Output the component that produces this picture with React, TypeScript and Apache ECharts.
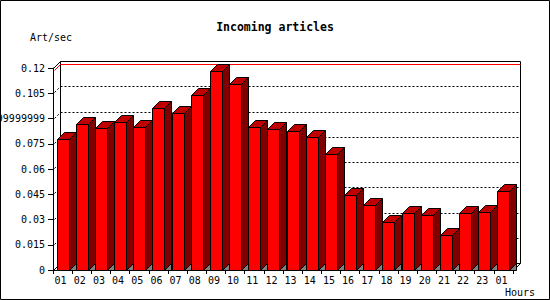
import React, { useEffect, useRef } from "react";
import * as echarts from "echarts";

const hours = ["01","02","03","04","05","06","07","08","09","10","11","12","13","14","15","16","17","18","19","20","21","22","23","01"];
const articlesPerSec = [0.0776,0.0866,0.0842,0.0877,0.0848,0.0960,0.0931,0.1038,0.1182,0.1103,0.0848,0.0839,0.0824,0.0788,0.0691,0.0446,0.0384,0.0285,0.0337,0.0325,0.0206,0.0339,0.0345,0.0467];
const yTickValues = [0,0.015,0.03,0.045,0.06,0.075,0.09,0.105,0.12];
const yTickLabels = ["0","0.015","0.03","0.045","0.06","0.075","0.0899999999999999","0.105","0.12"];
const titleText = "Incoming articles";
const yName = "Art/sec";
const xName = "Hours";

const FONT = "DejaVu Sans Mono";
const D = 7;
const snap = (v: number) => Math.round(v) + 0.5;

export default function App() {
  const ref = useRef<HTMLDivElement>(null);
  useEffect(() => {
    document.body.style.margin = "0";
    const chart = echarts.init(ref.current!, null, { renderer: "svg" });
    const maxVal = Math.max(...articlesPerSec);
    chart.setOption({
      animation: false,
      backgroundColor: "#ffffff",
      grid: { left: 53, top: 68, width: 460, height: 202, containLabel: false, outerBoundsMode: "none" },
      xAxis: {
        type: "category",
        data: hours,
        boundaryGap: true,
        axisLine: { lineStyle: { color: "#000", width: 1 } },
        axisTick: { show: true, length: 4, lineStyle: { color: "#000" } },
        axisLabel: { interval: 0, margin: 5, color: "#000", fontFamily: FONT, fontSize: 10, padding: [0, 4, 0, 0] },
        splitLine: { show: false },
      },
      yAxis: {
        type: "value",
        min: 0,
        max: 0.12,
        interval: 0.015,
        axisLine: { show: true, lineStyle: { color: "#000", width: 1 } },
        axisTick: { show: true, length: 5, lineStyle: { color: "#000" } },
        axisLabel: {
          margin: 8,
          color: "#000",
          fontFamily: FONT,
          fontSize: 10,
          formatter: (v: number) => {
            const idx = yTickValues.findIndex((t) => Math.abs(t - v) < 1e-9);
            return idx >= 0 ? yTickLabels[idx] : String(v);
          },
        },
        splitLine: { show: false },
      },
      graphic: [
        { type: "rect", shape: { x: 0.5, y: 0.5, width: 549, height: 299 }, style: { fill: "none", stroke: "#000", lineWidth: 1 }, z: 100 },
        { type: "text", x: 275, y: 27, style: { text: titleText, fontFamily: FONT, fontSize: 11.5, fontWeight: "bold", fill: "#000", textAlign: "center", textVerticalAlign: "middle" } },
        { type: "text", x: 30, y: 37, style: { text: yName, fontFamily: FONT, fontSize: 10, fill: "#000", textAlign: "left", textVerticalAlign: "middle" } },
        { type: "text", x: 505, y: 292, style: { text: xName, fontFamily: FONT, fontSize: 10, fill: "#000", textAlign: "left", textVerticalAlign: "middle" } },
      ],
      series: [
        {
          type: "custom",
          name: "walls",
          silent: true,
          clip: false,
          z: 1,
          data: [[0, 0]],
          renderItem: (params: any, api: any) => {
            const cs = params.coordSys;
            const x0 = Math.round(cs.x) + 0.5;
            const y0 = Math.round(cs.y) + 0.5;
            const x1 = Math.round(cs.x + cs.width) + 0.5;
            const y1 = Math.round(cs.y + cs.height) + 0.5;
            const st = { stroke: "#000", lineWidth: 1, fill: "none" };
            return {
              type: "group",
              children: [
                { type: "rect", shape: { x: x0 + D, y: y0 - D, width: x1 - x0, height: y1 - y0 }, style: { fill: "#fff", stroke: "#000", lineWidth: 1 } },
                { type: "line", shape: { x1: x0, y1: y0, x2: x0 + D, y2: y0 - D }, style: st },
                { type: "line", shape: { x1: x0, y1: y1, x2: x0 + D, y2: y1 - D }, style: st },
                { type: "line", shape: { x1: x1, y1: y1, x2: x1 + D, y2: y1 - D }, style: st },
              ],
            };
          },
        },
        {
          type: "custom",
          name: "grid",
          silent: true,
          clip: false,
          z: 2,
          data: yTickValues.slice(1, -1).map((v) => [0, v]),
          renderItem: (params: any, api: any) => {
            const cs = params.coordSys;
            const y = snap(api.coord([0, api.value(1)])[1]);
            const x0 = Math.round(cs.x) + 0.5;
            const x1 = Math.round(cs.x + cs.width) + 0.5;
            const st = { stroke: "#000", lineWidth: 1, fill: "none", lineDash: [2, 2] };
            return {
              type: "group",
              children: [
                { type: "line", shape: { x1: x0 + D, y1: y - D, x2: x1 + D, y2: y - D }, style: st },
                { type: "line", shape: { x1: x0 + 1, y1: y - 1, x2: x0 + D, y2: y - D }, style: st },
              ],
            };
          },
        },
        {
          type: "custom",
          name: "max",
          silent: true,
          clip: false,
          z: 3,
          data: [[0, maxVal]],
          renderItem: (params: any, api: any) => {
            const cs = params.coordSys;
            const y = snap(api.coord([0, api.value(1)])[1]);
            const x0 = Math.round(cs.x) + 0.5;
            const x1 = Math.round(cs.x + cs.width) + 0.5;
            return {
              type: "polyline",
              shape: { points: [[x0 + 1, y - 1], [x0 + D, y - D], [x1 + D, y - D]] },
              style: { stroke: "#ff0000", lineWidth: 1, fill: "none" },
            };
          },
        },
        {
          type: "custom",
          name: "bars",
          silent: true,
          clip: false,
          z: 4,
          data: articlesPerSec.map((v, i) => [i, v]),
          renderItem: (params: any, api: any) => {
            const i = api.value(0);
            const v = api.value(1);
            const top = api.coord([i, v]);
            const base = api.coord([i, 0]);
            const L = snap(top[0] - 6);
            const R = snap(top[0] + 6);
            const T = snap(top[1]);
            const B = snap(base[1]);
            const ln = { stroke: "#000", lineWidth: 1 };
            return {
              type: "group",
              children: [
                { type: "polygon", shape: { points: [[R, B], [R + D, B - D], [R + D, B]] }, style: { ...ln, fill: "#808080" } },
                { type: "polygon", shape: { points: [[R, T], [R + D, T - D], [R + D, B - D], [R, B]] }, style: { ...ln, fill: "#800000" } },
                { type: "polygon", shape: { points: [[L, T], [R, T], [R + D, T - D], [L + D, T - D]] }, style: { ...ln, fill: "#c00000" } },
                { type: "rect", shape: { x: L, y: T, width: R - L, height: B - T }, style: { ...ln, fill: "#ff0000" } },
              ],
            };
          },
        },
      ],
    });
    return () => chart.dispose();
  }, []);
  return <div ref={ref} style={{ position: "fixed", left: 0, top: 0, width: 550, height: 300 }} />;
}
